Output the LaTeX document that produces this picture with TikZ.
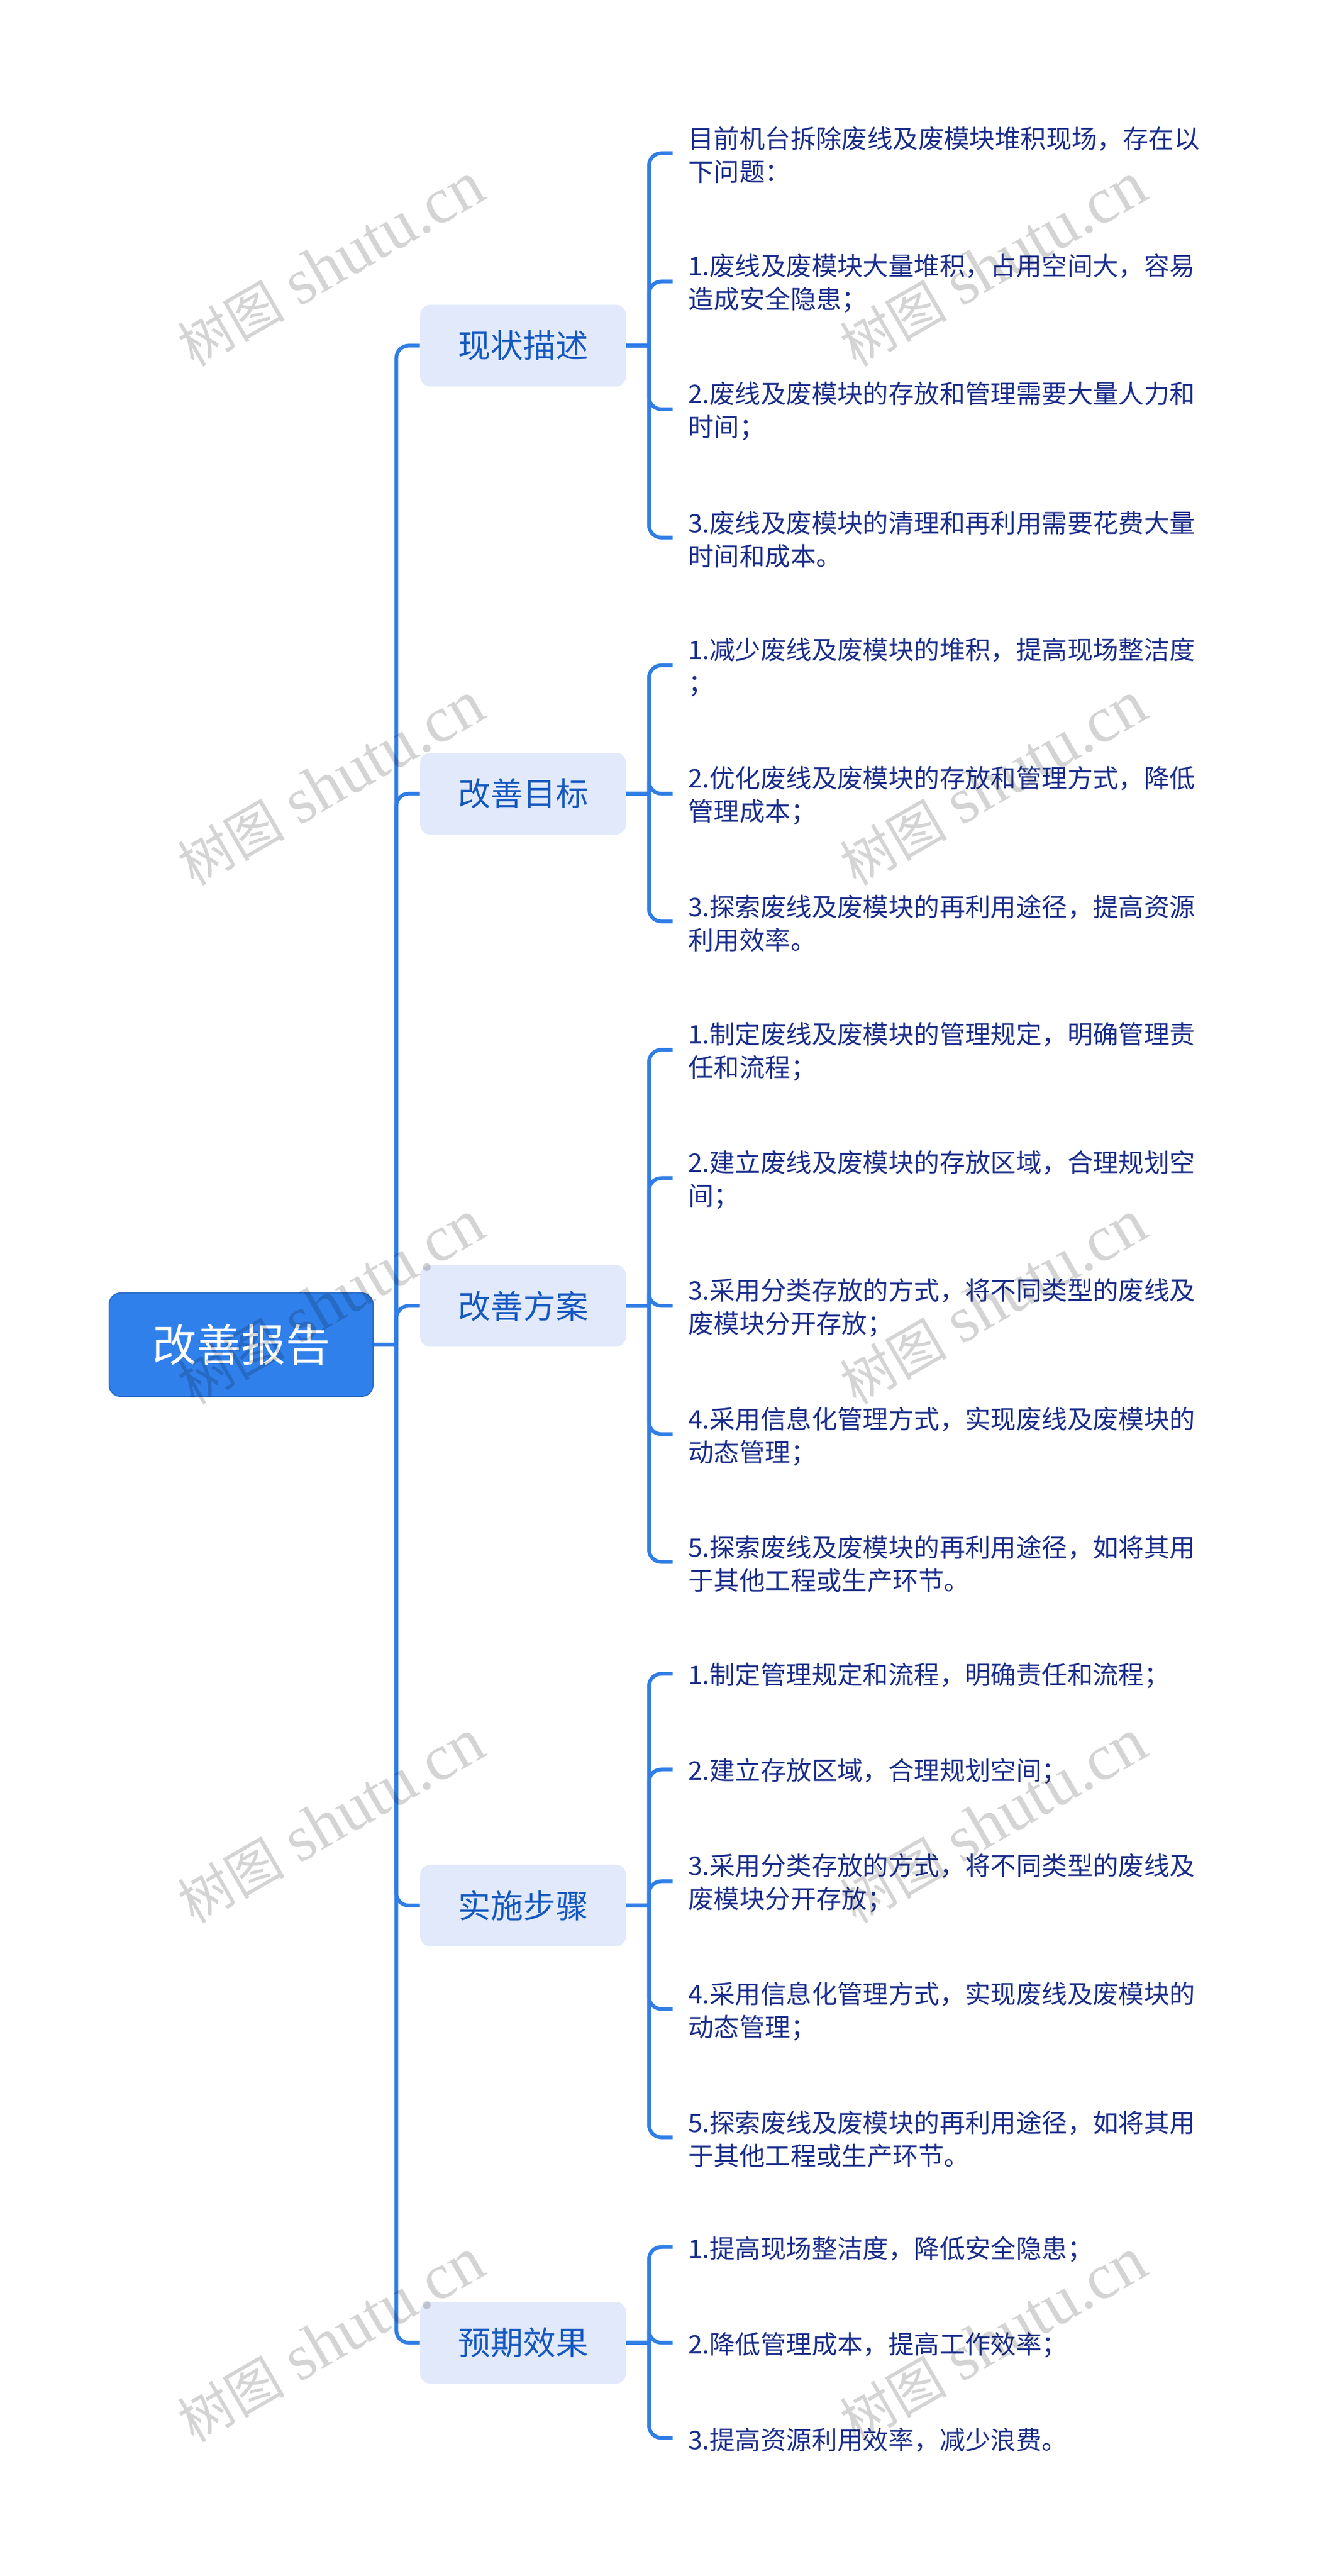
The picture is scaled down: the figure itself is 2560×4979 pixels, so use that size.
\documentclass[tikz,border=0pt]{standalone}
\usepackage{fontspec}
\setmainfont{Noto Sans CJK SC}
\newfontfamily\wmlatin{Liberation Serif}
\newfontfamily\wmcjk[Scale=0.82]{Noto Sans CJK SC}
\definecolor{linecol}{HTML}{2F7DE6}
\definecolor{rootcol}{HTML}{3080EC}
\definecolor{branchcol}{HTML}{E1E9FB}
\definecolor{branchtext}{HTML}{1558C0}
\definecolor{leaftext}{HTML}{1B2E8C}
\tikzset{
	rootbox/.style={draw=linecol!85!black,line width=1pt,fill=rootcol,rounded corners=11pt,minimum width=255pt,minimum height=100pt,text=white,font=\fontsize{43}{50}\selectfont},
	branchbox/.style={fill=branchcol,rounded corners=10pt,minimum width=199pt,minimum height=79pt,text=branchtext,font=\fontsize{31.5}{38}\selectfont},
	leaf/.style={anchor=west,align=left,inner xsep=15pt,inner ysep=0pt,yshift=-2pt,text=leaftext,font=\fontsize{24.7}{32}\selectfont},
	conn/.style={draw=linecol,line width=3.6pt},
	connbend/.style={conn,rounded corners=12pt},
	wmark/.style={rotate=30,text=black,opacity=0.17,inner sep=0pt,font=\fontsize{63}{70}\selectfont}
}

\begin{document}
\begin{tikzpicture}[x=0.5pt,y=-0.5pt]
	\useasboundingbox (0,0) rectangle (2560,4979);
	\node[rootbox] (root) at (466,2599) {改善报告};
	\node[branchbox] (b1) at (1011,668) {现状描述};
	\node[branchbox] (b2) at (1011,1534) {改善目标};
	\node[branchbox] (b3) at (1011,2524) {改善方案};
	\node[branchbox] (b4) at (1011,3683) {实施步骤};
	\node[branchbox] (b5) at (1011,4528) {预期效果};
	\node[leaf] (a1) at (1300,296) {目前机台拆除废线及废模块堆积现场，存在以\\下问题：};
	\node[leaf] (a2) at (1300,544) {1.废线及废模块大量堆积，占用空间大，容易\\造成安全隐患；};
	\node[leaf] (a3) at (1300,791) {2.废线及废模块的存放和管理需要大量人力和\\时间；};
	\node[leaf] (a4) at (1300,1039) {3.废线及废模块的清理和再利用需要花费大量\\时间和成本。};
	\node[leaf] (c1) at (1300,1286) {1.减少废线及废模块的堆积，提高现场整洁度\\；};
	\node[leaf] (c2) at (1300,1534) {2.优化废线及废模块的存放和管理方式，降低\\管理成本；};
	\node[leaf] (c3) at (1300,1781) {3.探索废线及废模块的再利用途径，提高资源\\利用效率。};
	\node[leaf] (d1) at (1300,2029) {1.制定废线及废模块的管理规定，明确管理责\\任和流程；};
	\node[leaf] (d2) at (1300,2277) {2.建立废线及废模块的存放区域，合理规划空\\间；};
	\node[leaf] (d3) at (1300,2524) {3.采用分类存放的方式，将不同类型的废线及\\废模块分开存放；};
	\node[leaf] (d4) at (1300,2772) {4.采用信息化管理方式，实现废线及废模块的\\动态管理；};
	\node[leaf] (d5) at (1300,3019) {5.探索废线及废模块的再利用途径，如将其用\\于其他工程或生产环节。};
	\node[leaf] (e1) at (1300,3235) {1.制定管理规定和流程，明确责任和流程；};
	\node[leaf] (e2) at (1300,3420) {2.建立存放区域，合理规划空间；};
	\node[leaf] (e3) at (1300,3636) {3.采用分类存放的方式，将不同类型的废线及\\废模块分开存放；};
	\node[leaf] (e4) at (1300,3883) {4.采用信息化管理方式，实现废线及废模块的\\动态管理；};
	\node[leaf] (e5) at (1300,4131) {5.探索废线及废模块的再利用途径，如将其用\\于其他工程或生产环节。};
	\node[leaf] (f1) at (1300,4343) {1.提高现场整洁度，降低安全隐患；};
	\node[leaf] (f2) at (1300,4528) {2.降低管理成本，提高工作效率；};
	\node[leaf] (f3) at (1300,4712) {3.提高资源利用效率，减少浪费。};
	\draw[conn] (root.east) -- ++(44,0) coordinate (trunk);
	\foreach \b in {b1,b2,b3,b4,b5}
		\draw[connbend] (trunk) |- (\b.west);
	\foreach \b/\leaves in {b1/{a1,a2,a3,a4},b2/{c1,c2,c3},b3/{d1,d2,d3,d4,d5},b4/{e1,e2,e3,e4,e5},b5/{f1,f2,f3}} {
		\draw[conn] (\b.east) -- ++(44,0) coordinate (bus);
		\foreach \l in \leaves
			\draw[connbend] (bus) |- ([yshift=2pt]\l.west);
	}
	% watermark on top of everything
	\foreach \y [count=\r] in {512,1515,2518,3521,4524}
		\foreach \x [count=\c] in {640,1920}
			\node[wmark] (w\r\c) at (\x,\y) {{\wmcjk 树图} {\wmlatin shutu.cn}};
\end{tikzpicture}
\end{document}
